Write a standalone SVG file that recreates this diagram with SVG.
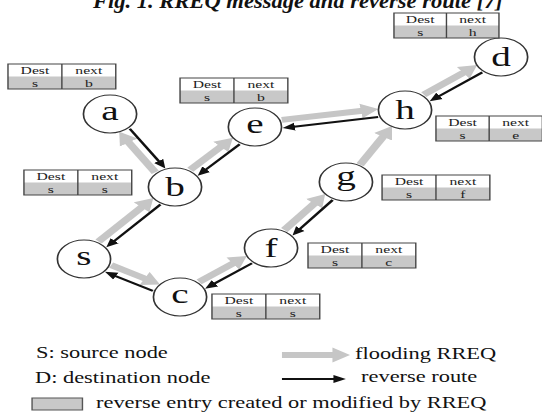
<svg xmlns="http://www.w3.org/2000/svg" width="542" height="413" viewBox="0 0 542 413">
<defs>
<marker id="gh" markerUnits="userSpaceOnUse" markerWidth="14" markerHeight="16" viewBox="0 -7 12 14" refX="1" refY="0" orient="auto"><path d="M0,-6.5 L11,0 L0,6.5 z" fill="#c6c6c6"/></marker>
<marker id="bh" markerUnits="userSpaceOnUse" markerWidth="10" markerHeight="9" viewBox="0 -4 9 8" refX="2" refY="0" orient="auto"><path d="M0,-3.5 L8,0 L0,3.5 z" fill="#111"/></marker>
</defs>
<style>
.nd{fill:#fff;stroke:#333;stroke-width:1.2}
.lb{font-family:"Liberation Serif","Times New Roman",serif;font-size:28px;text-anchor:middle;fill:#111}
.fl{stroke:#c6c6c6;stroke-width:6;fill:none;marker-end:url(#gh)}
.rv{stroke:#111;stroke-width:2;fill:none;marker-end:url(#bh)}
.tw{fill:#fff}
.tg{fill:#c8c8c8}
.tb{fill:none;stroke:#444;stroke-width:1}
.tt{font-family:"Liberation Serif","Times New Roman",serif;font-size:11.2px;text-anchor:middle;fill:#222}
.lg{font-family:"Liberation Serif","Times New Roman",serif;font-size:16px;fill:#111}
</style>
<rect width="542" height="413" fill="#fff"/>
<text x="93" y="8" textLength="410" lengthAdjust="spacingAndGlyphs" style="font-family:'Liberation Serif',serif;font-size:21px;font-weight:bold;font-style:italic" fill="#111">Fig. 1. RREQ message and reverse route [7]</text>
<g transform="scale(1.4,1)">
<g id="connectors">
<path class="fl" d="M110.9,172.3 L91.3,141.5"/>
<path class="rv" d="M92.7,128.7 L114.5,162.9"/>
<path class="fl" d="M135.9,169.7 L158.5,146.0"/>
<path class="rv" d="M171.2,144.3 L145.8,170.9"/>
<path class="fl" d="M201.3,119.9 L259.0,110.8"/>
<path class="rv" d="M270.1,117.1 L208.4,126.9"/>
<path class="fl" d="M302.7,94.6 L331.8,72.1"/>
<path class="rv" d="M344.5,72.4 L312.2,97.3"/>
<path class="fl" d="M70.4,241.5 L101.9,206.5"/>
<path class="rv" d="M114.6,204.5 L80.4,242.4"/>
<path class="fl" d="M79.4,265.2 L104.3,279.0"/>
<path class="rv" d="M109.2,290.8 L80.8,275.1"/>
<path class="fl" d="M142.2,281.8 L167.2,262.8"/>
<path class="rv" d="M180.0,263.2 L151.8,284.6"/>
<path class="fl" d="M203.1,230.0 L225.1,202.8"/>
<path class="rv" d="M237.6,200.0 L213.1,230.3"/>
<path class="fl" d="M257.2,164.8 L274.2,135.8"/>
</g>
<g id="node-a"><circle class="nd" cx="78.6" cy="114" r="19"/><text class="lb" x="78.6" y="120">a</text></g>
<g id="node-b"><circle class="nd" cx="125" cy="187" r="19"/><text class="lb" x="125" y="196">b</text></g>
<g id="node-e"><circle class="nd" cx="182.1" cy="127" r="19"/><text class="lb" x="182.1" y="133">e</text></g>
<g id="node-h"><circle class="nd" cx="289.3" cy="110" r="19"/><text class="lb" x="289.3" y="119">h</text></g>
<g id="node-d"><circle class="nd" cx="357.9" cy="57" r="19"/><text class="lb" x="357.9" y="66">d</text></g>
<g id="node-g"><circle class="nd" cx="247.1" cy="182" r="19"/><text class="lb" x="247.1" y="185">g</text></g>
<g id="node-f"><circle class="nd" cx="193.6" cy="248" r="19"/><text class="lb" x="193.6" y="257">f</text></g>
<g id="node-s"><circle class="nd" cx="60" cy="259" r="19"/><text class="lb" x="60" y="265">s</text></g>
<g id="node-c"><circle class="nd" cx="128.6" cy="297" r="19"/><text class="lb" x="128.6" y="303">c</text></g>
<g id="table-a" transform="translate(5.7,64)"><rect class="tw" width="77" height="12.5"/><rect class="tg" y="12.5" width="77" height="12.5"/><rect class="tb" width="77" height="25"/><path class="tb" d="M38.5,0 V25"/><text class="tt" x="19.25" y="10.3">Dest</text><text class="tt" x="57.75" y="10.3">next</text><text class="tt" x="19.25" y="22.9">s</text><text class="tt" x="57.75" y="22.9">b</text></g>
<g id="table-e" transform="translate(128.6,78)"><rect class="tw" width="77" height="12.5"/><rect class="tg" y="12.5" width="77" height="12.5"/><rect class="tb" width="77" height="25"/><path class="tb" d="M38.5,0 V25"/><text class="tt" x="19.25" y="10.3">Dest</text><text class="tt" x="57.75" y="10.3">next</text><text class="tt" x="19.25" y="22.9">s</text><text class="tt" x="57.75" y="22.9">b</text></g>
<g id="table-b" transform="translate(17.1,170)"><rect class="tw" width="77" height="12.5"/><rect class="tg" y="12.5" width="77" height="12.5"/><rect class="tb" width="77" height="25"/><path class="tb" d="M38.5,0 V25"/><text class="tt" x="19.25" y="10.3">Dest</text><text class="tt" x="57.75" y="10.3">next</text><text class="tt" x="19.25" y="22.9">s</text><text class="tt" x="57.75" y="22.9">s</text></g>
<g id="table-d" transform="translate(281.4,13)"><rect class="tw" width="75" height="12.5"/><rect class="tg" y="12.5" width="75" height="12.5"/><rect class="tb" width="75" height="25"/><path class="tb" d="M37.5,0 V25"/><text class="tt" x="18.75" y="10.3">Dest</text><text class="tt" x="56.25" y="10.3">next</text><text class="tt" x="18.75" y="22.9">s</text><text class="tt" x="56.25" y="22.9">h</text></g>
<g id="table-h" transform="translate(311.4,116)"><rect class="tw" width="76" height="12.5"/><rect class="tg" y="12.5" width="76" height="12.5"/><rect class="tb" width="76" height="25"/><path class="tb" d="M38,0 V25"/><text class="tt" x="19" y="10.3">Dest</text><text class="tt" x="57" y="10.3">next</text><text class="tt" x="19" y="22.9">s</text><text class="tt" x="57" y="22.9">e</text></g>
<g id="table-g" transform="translate(272.9,175)"><rect class="tw" width="77" height="12.5"/><rect class="tg" y="12.5" width="77" height="12.5"/><rect class="tb" width="77" height="25"/><path class="tb" d="M38.5,0 V25"/><text class="tt" x="19.25" y="10.3">Dest</text><text class="tt" x="57.75" y="10.3">next</text><text class="tt" x="19.25" y="22.9">s</text><text class="tt" x="57.75" y="22.9">f</text></g>
<g id="table-f" transform="translate(220,243)"><rect class="tw" width="77" height="12.5"/><rect class="tg" y="12.5" width="77" height="12.5"/><rect class="tb" width="77" height="25"/><path class="tb" d="M38.5,0 V25"/><text class="tt" x="19.25" y="10.3">Dest</text><text class="tt" x="57.75" y="10.3">next</text><text class="tt" x="19.25" y="22.9">s</text><text class="tt" x="57.75" y="22.9">c</text></g>
<g id="table-c" transform="translate(151.4,294)"><rect class="tw" width="77" height="12.5"/><rect class="tg" y="12.5" width="77" height="12.5"/><rect class="tb" width="77" height="25"/><path class="tb" d="M38.5,0 V25"/><text class="tt" x="19.25" y="10.3">Dest</text><text class="tt" x="57.75" y="10.3">next</text><text class="tt" x="19.25" y="22.9">s</text><text class="tt" x="57.75" y="22.9">s</text></g>
<g id="legend">
<text class="lg" x="25.7" y="358">S: source node</text>
<text class="lg" x="25" y="383">D: destination node</text>
<rect x="22.9" y="398" width="36" height="12" fill="#c8c8c8" stroke="#555" stroke-width="1"/>
<text class="lg" x="68.6" y="408">reverse entry created or modified by RREQ</text>
<path class="fl" d="M201.4,355 L238.6,355"/>
<text class="lg" x="253.6" y="359">flooding RREQ</text>
<path class="rv" d="M201.4,379 L240.4,379"/>
<text class="lg" x="257.9" y="382">reverse route</text>
</g>
</g>
</svg>
